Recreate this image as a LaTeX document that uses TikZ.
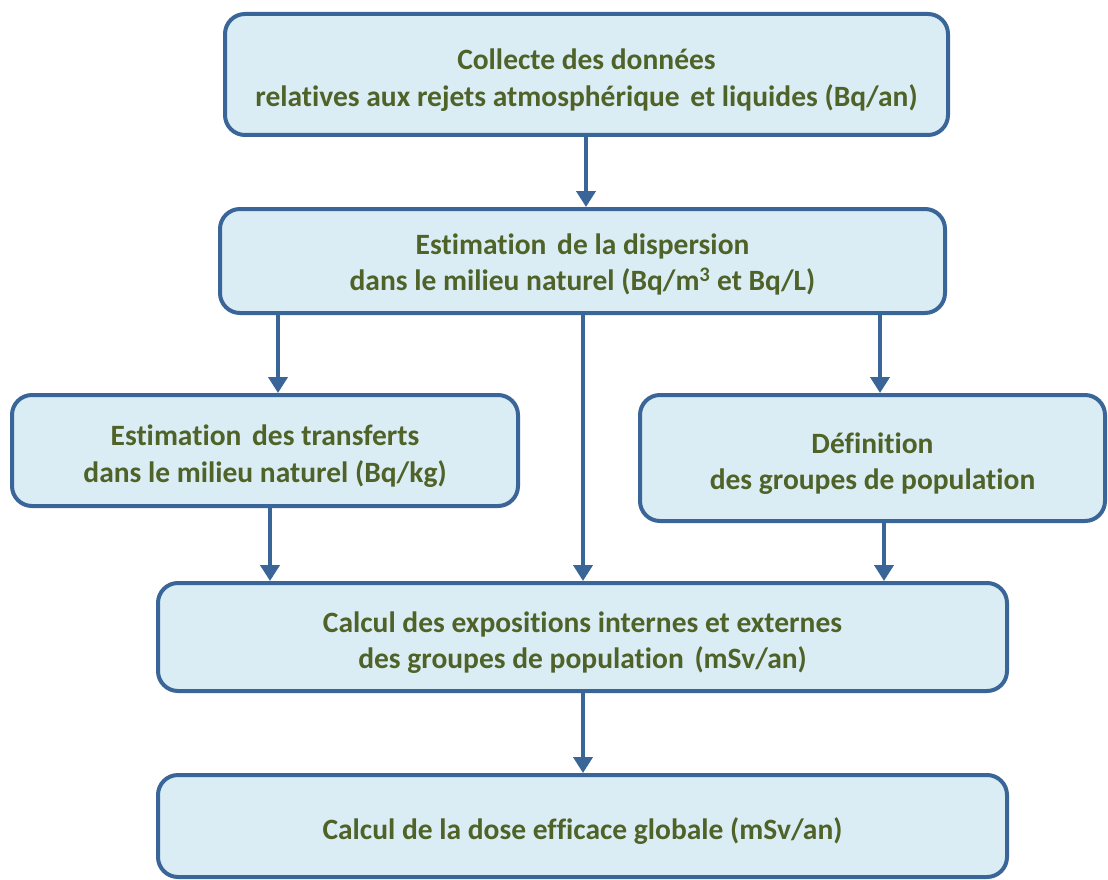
\documentclass[tikz,border=0pt]{standalone}
\usepackage{fontspec}
\setmainfont[Ligatures={NoCommon}]{Carlito}
\usetikzlibrary{arrows.meta}
\definecolor{boxfill}{HTML}{DBEDF4}
\definecolor{boxline}{HTML}{3A6598}
\definecolor{txt}{HTML}{4F6228}
\newcommand{\boxtext}[2][-6pt]{\raisebox{#1}[\height][\depth]{\begin{tabular}{@{}c@{}}#2\end{tabular}}}
\tikzset{
  box/.style={draw=boxline, fill=boxfill, line width=4pt, rounded corners=20pt,
    text=txt, font=\fontsize{29.5}{36.5}\selectfont\bfseries, inner sep=0pt},
  arr/.style={draw=boxline, line width=4pt, -{Triangle[width=19pt,length=16pt]}}
}
\begin{document}
\begin{tikzpicture}[x=1pt,y=-1pt]
\useasboundingbox (0,0) rectangle (1108,880);
\node[box, minimum width=723pt, minimum height=121pt] (b1) at (586.5,74.5)
  {\boxtext{Collecte des données\\relatives aux rejets atmosphérique\hspace{4pt} et liquides (Bq/an)}};
\node[box, minimum width=725pt, minimum height=104pt] (b2) at (582.5,261)
  {\boxtext[-4pt]{Estimation\hspace{4pt} de la dispersion\\dans le milieu naturel (Bq/m\textsuperscript{3} et Bq/L)}};
\node[box, minimum width=506pt, minimum height=111pt] (b3) at (265,450.5)
  {\boxtext{Estimation\hspace{4pt} des transferts\\dans le milieu naturel (Bq/kg)}};
\node[box, minimum width=465pt, minimum height=126pt] (b4) at (872.5,458)
  {\boxtext{Définition\\des groupes de population}};
\node[box, minimum width=849pt, minimum height=108pt] (b5) at (582.5,637)
  {\boxtext{Calcul des expositions internes et externes\\des groupes de population\hspace{4pt} (mSv/an)}};
\node[box, minimum width=849pt, minimum height=102pt] (b6) at (582.5,826)
  {\boxtext[-6pt]{Calcul de la dose efficace globale (mSv/an)}};
\draw[arr] (b1.south -| 586,0) -- (b2.north -| 586,0);
\draw[arr] (b2.south -| 278,0) -- (b3.north -| 278,0);
\draw[arr] (b2.south -| 583,0) -- (b5.north -| 583,0);
\draw[arr] (b2.south -| 880,0) -- (b4.north -| 880,0);
\draw[arr] (b3.south -| 270,0) -- (b5.north -| 270,0);
\draw[arr] (b4.south -| 884,0) -- (b5.north -| 884,0);
\draw[arr] (b5.south -| 583,0) -- (b6.north -| 583,0);
\end{tikzpicture}
\end{document}
